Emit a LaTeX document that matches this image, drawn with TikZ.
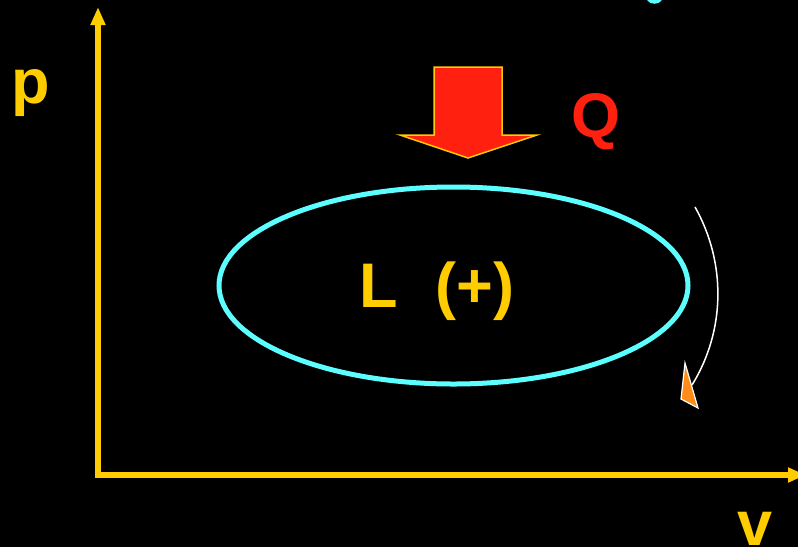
\documentclass[tikz,border=0pt]{standalone}
\usepackage{fontspec}
\setmainfont{Liberation Sans}
\usetikzlibrary{arrows.meta,shapes.geometric}
\definecolor{axisyellow}{HTML}{FFCC00}
\definecolor{cyanline}{HTML}{5CFFFF}
\definecolor{heatred}{HTML}{FF2010}
\definecolor{tiporange}{HTML}{FF8C1A}
\begin{document}
\begin{tikzpicture}[x=1pt,y=-1pt,
  bigtext/.style={font=\fontsize{63}{63}\selectfont\bfseries, inner sep=0pt, anchor=base},
  axisline/.style={draw=axisyellow, line width=5.5pt, -{Triangle[length=18pt,width=14pt]}}]
\fill[black] (0,0) rectangle (798,547);
\useasboundingbox (0,0) rectangle (798,547);
% axes
\coordinate (O) at (98,475);
\coordinate (ytop) at (98,7);
\coordinate (xend) at (806,475);
\draw[axisline] (O) -- (ytop);
\draw[axisline] ([xshift=-2.75pt]O) -- (xend);
% labels
\node[bigtext, text=axisyellow] (p) at (31,103) {p};
\node[bigtext, text=axisyellow] (v) at (755,545) {v};
% cycle
\node[draw=cyanline, line width=5pt, ellipse, inner sep=0pt, outer sep=0pt,
      minimum width=469pt, minimum height=197pt] (cyc) at (453.5,285.5) {};
\node[bigtext, text=axisyellow] (L) at (379,307) {L};
\node[bigtext, text=axisyellow] (plus) at (475,307) {(+)};
% heat arrow
\filldraw[fill=heatred, draw=axisyellow, line width=1.5pt, line join=miter]
  (434,67) -- (502,67) -- (502,135) -- (537,135) -- (468,158) -- (400,135) -- (434,135) -- cycle;
\node[bigtext, text=heatred] (Q) at (596,137) {Q};
% direction arrow
\coordinate (cstart) at (695,207);
\coordinate (cend) at (692,385);
\draw[white, line width=1.5pt] (cstart) .. controls (726,262) and (726,330) .. (cend);
\filldraw[fill=tiporange, draw=white, line width=1.2pt, line join=miter]
  (685,363) -- (681,399) -- (698,408) -- cycle;
% cut-off cyan glyph at top
\fill[cyanline] (647,0) .. controls (650,5) and (659,5) .. (662,0) -- cycle;
\end{tikzpicture}
\end{document}
